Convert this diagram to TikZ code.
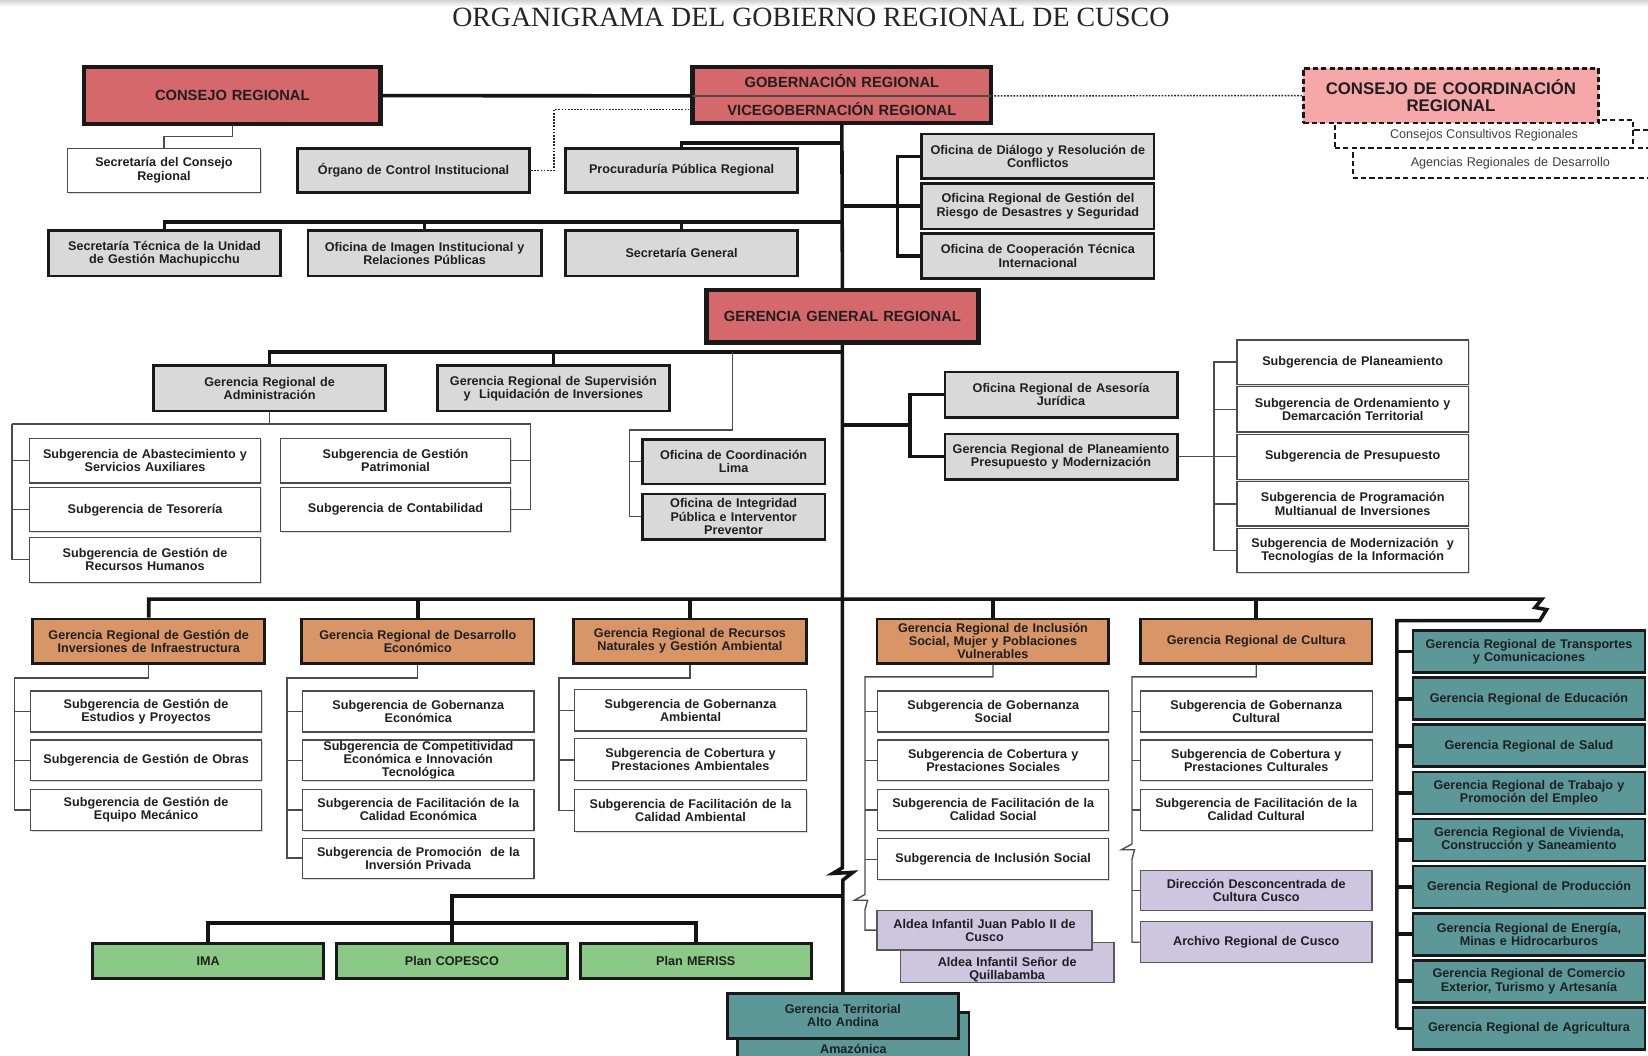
\documentclass[tikz,border=0pt]{standalone}
\usepackage{fontspec}
\usetikzlibrary{shadows}
\newfontfamily\boxfont{Liberation Sans}
\newfontfamily\serifT{Liberation Serif}
\definecolor{redfill}{RGB}{212,104,106}
\definecolor{pinkfill}{RGB}{246,168,168}
\definecolor{grayfill}{RGB}{217,217,217}
\definecolor{orangefill}{RGB}{216,150,104}
\definecolor{tealfill}{RGB}{92,152,152}
\definecolor{greenfill}{RGB}{138,201,134}
\definecolor{purplefill}{RGB}{206,197,224}
\newcommand\obox[7]{%
  \pgfmathsetmacro\obcx{(#3+#5)/2}%
  \pgfmathsetmacro\obcy{(#4+#6)/2}%
  \pgfmathsetmacro\obw{#5-#3}%
  \pgfmathsetmacro\obh{#6-#4}%
  \pgfmathsetmacro\obtw{#5-#3-4}%
  \node[#1, minimum width=\obw pt, minimum height=\obh pt, text width=\obtw pt] (#2) at (\obcx,\obcy) {#7};}
\tikzset{
  bxbase/.style={rectangle, inner sep=0pt, align=center, font=\boxfont\bfseries\fontsize{12}{12.5}\selectfont, text=black!88},
  redbox/.style={bxbase, fill=redfill, draw=black!90, line width=4.2pt, font=\boxfont\bfseries\fontsize{14}{15}\selectfont},
  redtext/.style={bxbase, font=\boxfont\bfseries\fontsize{14}{15}\selectfont},
  graybox/.style={bxbase, fill=grayfill, draw=black!90, line width=2.6pt},
  whitebox/.style={bxbase, fill=white, draw=black!70, line width=1.1pt, drop shadow={shadow xshift=1.3pt, shadow yshift=-1.3pt, fill=black!28}},
  orangebox/.style={bxbase, fill=orangefill, draw=black!90, line width=2.6pt},
  tealbox/.style={bxbase, fill=tealfill, draw=black!90, line width=2.6pt},
  greenbox/.style={bxbase, fill=greenfill, draw=black!90, line width=2.6pt},
  purplebox/.style={bxbase, fill=purplefill, draw=black!65, line width=1.3pt},
  pinkbox/.style={bxbase, fill=pinkfill, draw=black!90, line width=2.6pt, dash pattern=on 5pt off 3pt, font=\boxfont\bfseries\fontsize{16}{16}\selectfont},
  dashbox/.style={bxbase, fill=white, draw=black!90, line width=2pt, dash pattern=on 5pt off 3pt, font=\boxfont\fontsize{12}{13}\selectfont, text=black!75},
  thk/.style={line width=3.4pt, draw=black!92},
  thn/.style={line width=1.3pt, draw=black!70},
  dotl/.style={line width=1.4pt, dash pattern=on 1.6pt off 1.4pt, draw=black!85},
  dshl/.style={line width=2pt, dash pattern=on 5pt off 3pt, draw=black!90}
}
\begin{document}
\begin{tikzpicture}[x=1pt,y=-1pt]
\useasboundingbox (0,0) rectangle (1568,1004);
\clip (0,0) rectangle (1568,1004);
\fill[white] (0,0) rectangle (1568,1004);
\shade[top color=black!18, bottom color=white] (0,0) rectangle (1568,6);

\node[font=\serifT\fontsize{26.5}{28}\selectfont, text=black!85] (title) at (771.5,17) {ORGANIGRAMA DEL GOBIERNO REGIONAL DE CUSCO};

% top level
\obox{redbox}{cr}{80}{64}{362}{118}{CONSEJO REGIONAL}
\obox{redbox}{gobframe}{659}{64}{943}{117}{}
\obox{redtext}{gob}{659}{64}{943}{91}{GOBERNACIÓN REGIONAL}
\obox{redtext}{vice}{659}{91}{943}{117}{VICEGOBERNACIÓN REGIONAL}
\draw[line width=1.5pt, black!70] (gob.south west) -- (gob.south east);

\obox{dashbox}{agen}{1287}{141}{1587}{169}{Agencias Regionales de Desarrollo}
\obox{dashbox}{ccons}{1270}{114}{1554}{141}{}
\node[font=\boxfont\fontsize{12}{13}\selectfont, text=black!75] (cconstxt) at (1412,129) {Consejos Consultivos Regionales};
\obox{pinkbox}{ccr}{1240}{65}{1521}{117}{CONSEJO DE COORDINACIÓN\\REGIONAL}
\coordinate (edgeR) at (1575,124);
\draw[dshl] ([yshift=3.5pt]ccons.east) -- (edgeR);

\obox{whitebox}{scr}{64}{141}{248}{183}{Secretaría del Consejo\\Regional}
\obox{graybox}{oci}{283}{141}{504}{183}{Órgano de Control Institucional}
\obox{graybox}{ppr}{538}{141}{759}{183}{Procuraduría Pública Regional}
\obox{graybox}{odr}{877}{127.5}{1098}{170}{Oficina de Diálogo y Resolución de\\Conflictos}
\obox{graybox}{orgr}{877}{174.5}{1098}{218}{Oficina Regional de Gestión del\\Riesgo de Desastres y Seguridad}
\obox{graybox}{octi}{877}{222}{1098}{265}{Oficina de Cooperación Técnica\\Internacional}
\obox{graybox}{stum}{46}{219.5}{267}{262.6}{Secretaría Técnica de la Unidad\\de Gestión Machupicchu}
\obox{graybox}{oiirp}{293}{219.5}{515}{262.6}{Oficina de Imagen Institucional y\\Relaciones Públicas}
\obox{graybox}{sg}{538}{219.5}{759}{262.6}{Secretaría General}

\obox{redbox}{ggr}{672}{276}{931}{326}{GERENCIA GENERAL REGIONAL}

% gerencia general level
\obox{graybox}{gra}{146}{348}{367}{391}{Gerencia Regional de\\Administración}
\obox{graybox}{grsli}{416}{348}{637}{391}{Gerencia Regional de Supervisión\\y\ \ Liquidación de Inversiones}
\obox{whitebox}{sab}{28}{417}{248}{459.5}{Subgerencia de Abastecimiento y\\Servicios Auxiliares}
\obox{whitebox}{ste}{28}{464}{248}{506}{Subgerencia de Tesorería}
\obox{whitebox}{srh}{28}{511}{248}{554}{Subgerencia de Gestión de\\Recursos Humanos}
\obox{whitebox}{sgp}{266.7}{417}{486}{459.5}{Subgerencia de Gestión\\Patrimonial}
\obox{whitebox}{sco}{266.7}{464}{486}{506}{Subgerencia de Contabilidad}
\obox{graybox}{ocl}{611}{418}{785}{460.6}{Oficina de Coordinación\\Lima}
\obox{graybox}{oipi}{611}{470}{785}{513}{Oficina de Integridad\\Pública e Interventor\\Preventor}

\obox{graybox}{oraj}{899}{354}{1120}{397}{Oficina Regional de Asesoría\\Jurídica}
\obox{graybox}{grppm}{899}{413}{1120}{456}{Gerencia Regional de Planeamiento\\Presupuesto y Modernización}
\obox{whitebox}{spl}{1177}{323.5}{1397}{365.5}{Subgerencia de Planeamiento}
\obox{whitebox}{sod}{1177}{368}{1397}{411}{Subgerencia de Ordenamiento y\\Demarcación Territorial}
\obox{whitebox}{spr}{1177}{413}{1397}{456}{Subgerencia de Presupuesto}
\obox{whitebox}{spm}{1177}{458.5}{1397}{500.5}{Subgerencia de Programación\\Multianual de Inversiones}
\obox{whitebox}{smt}{1177}{503}{1397}{545}{Subgerencia de Modernización\ \ y\\Tecnologías de la Información}

% orange gerencias
\obox{orangebox}{ogi}{31}{589}{252}{631}{Gerencia Regional de Gestión de\\Inversiones de Infraestructura}
\obox{orangebox}{ode}{287}{589}{508}{631}{Gerencia Regional de Desarrollo\\Económico}
\obox{orangebox}{orn}{546}{589}{767}{631}{Gerencia Regional de Recursos\\Naturales y Gestión Ambiental}
\obox{orangebox}{ois}{834.5}{589}{1055}{631}{Gerencia Regional de Inclusión\\Social, Mujer y Poblaciones\\Vulnerables}
\obox{orangebox}{ocu}{1085}{589}{1305.5}{631}{Gerencia Regional de Cultura}

\obox{whitebox}{sgep}{29}{657.5}{249}{696.5}{Subgerencia de Gestión de\\Estudios y Proyectos}
\obox{whitebox}{sgo}{29}{704}{249}{743}{Subgerencia de Gestión de Obras}
\obox{whitebox}{sgem}{29}{751}{249}{790}{Subgerencia de Gestión de\\Equipo Mecánico}

\obox{whitebox}{sgec}{288}{657.5}{508}{696.5}{Subgerencia de Gobernanza\\Económica}
\obox{whitebox}{scei}{288}{704}{508}{743}{Subgerencia de Competitividad\\Económica e Innovación\\Tecnológica}
\obox{whitebox}{sfce}{288}{751}{508}{790}{Subgerencia de Facilitación de la\\Calidad Económica}
\obox{whitebox}{spip}{288}{797.5}{508}{835.5}{Subgerencia de Promoción\ \ de la\\Inversión Privada}

\obox{whitebox}{sga}{547}{656}{767}{695.5}{Subgerencia de Gobernanza\\Ambiental}
\obox{whitebox}{scpa}{547}{703}{767}{743}{Subgerencia de Cobertura y\\Prestaciones Ambientales}
\obox{whitebox}{sfca}{547}{751}{767}{791}{Subgerencia de Facilitación de la\\Calidad Ambiental}

\obox{whitebox}{sgs}{835}{657.5}{1055}{696.5}{Subgerencia de Gobernanza\\Social}
\obox{whitebox}{scps}{835}{704}{1055}{743}{Subgerencia de Cobertura y\\Prestaciones Sociales}
\obox{whitebox}{sfcs}{835}{751}{1055}{790}{Subgerencia de Facilitación de la\\Calidad Social}
\obox{whitebox}{sis}{835}{798}{1055}{837}{Subgerencia de Inclusión Social}
\obox{purplebox}{aisq}{856.5}{897}{1060}{935}{\\[9pt]Aldea Infantil Señor de\\Quillabamba}
\obox{purplebox}{aijp}{834.5}{866}{1039}{904}{Aldea Infantil Juan Pablo II de\\Cusco}

\obox{whitebox}{sgc}{1085}{657.5}{1305.5}{696.5}{Subgerencia de Gobernanza\\Cultural}
\obox{whitebox}{scpc}{1085}{704}{1305.5}{743}{Subgerencia de Cobertura y\\Prestaciones Culturales}
\obox{whitebox}{sfcc}{1085}{751}{1305.5}{790}{Subgerencia de Facilitación de la\\Calidad Cultural}
\obox{purplebox}{ddcc}{1085}{828}{1305.5}{866}{Dirección Desconcentrada de\\Cultura Cusco}
\obox{purplebox}{arc}{1085}{877}{1305.5}{916}{Archivo Regional de Cusco}

% teal column
\obox{tealbox}{t1}{1344.5}{600}{1565}{640}{Gerencia Regional de Transportes\\y Comunicaciones}
\obox{tealbox}{t2}{1344.5}{644.8}{1565}{684.8}{Gerencia Regional de Educación}
\obox{tealbox}{t3}{1344.5}{689.6}{1565}{729.6}{Gerencia Regional de Salud}
\obox{tealbox}{t4}{1344.5}{734.4}{1565}{774.4}{Gerencia Regional de Trabajo y\\Promoción del Empleo}
\obox{tealbox}{t5}{1344.5}{779.2}{1565}{819.2}{Gerencia Regional de Vivienda,\\Construcción y Saneamiento}
\obox{tealbox}{t6}{1344.5}{824}{1565}{864}{Gerencia Regional de Producción}
\obox{tealbox}{t7}{1344.5}{868.8}{1565}{908.8}{Gerencia Regional de Energía,\\Minas e Hidrocarburos}
\obox{tealbox}{t8}{1344.5}{913.6}{1565}{953.6}{Gerencia Regional de Comercio\\Exterior, Turismo y Artesanía}
\obox{tealbox}{t9}{1344.5}{958.4}{1565}{998.4}{Gerencia Regional de Agricultura}

% green
\obox{greenbox}{ima}{88}{898}{308}{931}{IMA}
\obox{greenbox}{cop}{320}{898}{540}{931}{Plan COPESCO}
\obox{greenbox}{mer}{552}{898}{772}{931}{Plan MERISS}

% territorial
\obox{tealbox}{gtam}{702}{963}{922}{1033}{Amazónica}
\obox{tealbox}{gt}{692}{945}{912}{988}{Gerencia Territorial\\Alto Andina}

% ---------------- connectors
\draw[thk] (cr.east) -- (gob.south west);
\draw[dotl] (gob.south east) -- (ccr.west);
\draw[thn] (cr.south) -- ++(0,10) -| (scr.north);
\draw[dotl] (oci.east) -- ++(22,0) |- (vice.west);

\draw[thk] (gobframe.south) -- (ggr.north);
\coordinate (zs1) at (801.5,825.6);
\draw[thk] (ggr.south) -- (zs1) -- ++(-9,5.4) -- ++(19,-1) -- ++(-9.5,7.3) -- (gt.north);

\coordinate (j1) at (801,136);
\draw[thk] (ppr.north) |- (j1);
\coordinate (j2) at (801,196.25);
\coordinate (b2) at (854,196.25);
\draw[thk] (j2) -- (orgr.west);
\draw[thk] (odr.west) -| (b2) |- (octi.west);
\coordinate (j3) at (801,211);
\draw[thk] (stum.north) |- (j3);
\draw[thk] (oiirp.north) -- ++(0,-8.5);
\draw[thk] (sg.north) -- ++(0,-8.5);

\coordinate (j4) at (801,335);
\draw[thk] (gra.north) |- (j4);
\draw[thk] (grsli.north) -- ++(0,-13);
\coordinate (j5) at (697,335);
\coordinate (j6) at (599,409);
\draw[thn] (j5) |- (j6) |- (oipi.west);
\draw[thn] (j6 |- ocl.west) -- (ocl.west);

\coordinate (a1) at (11.4,403.5);
\coordinate (a2) at (505,403.5);
\draw[thn] (gra.south) -- (gra.south |- a1);
\draw[thn] (a1) -- (a2) |- (sco.east);
\draw[thn] (a1) |- (srh.west);
\draw[thn] (a1 |- sab.west) -- (sab.west);
\draw[thn] (a1 |- ste.west) -- (ste.west);
\draw[thn] (a2 |- sgp.east) -- (sgp.east);

\coordinate (j7) at (801,404.5);
\coordinate (b7) at (866,404.5);
\draw[thk] (j7) -- (b7);
\draw[thk] (oraj.west) -| (b7) |- (grppm.west);
\coordinate (b8) at (1155,434.5);
\draw[thn] (grppm.east) -- (spr.west);
\draw[thn] (spl.west) -| (b8) |- (smt.west);
\draw[thn] (b8 |- sod.west) -- (sod.west);
\draw[thn] (b8 |- spm.west) -- (spm.west);

% bus
\coordinate (zz1) at (1467,570);
\coordinate (tb) at (1329,590.5);
\draw[thk] (ogi.north) |- (zz1) -- ++(-6.5,8) -- ++(11,2) -- ++(-6.5,10.5) -- (tb) -- (tb |- t9.west);
\draw[thk] (ode.north) -- ++(0,-19);
\draw[thk] (orn.north) -- ++(0,-19);
\draw[thk] (ois.north) -- ++(0,-19);
\draw[thk] (ocu.north) -- ++(0,-19);
\foreach \t in {t1,t2,t3,t4,t5,t6,t7,t8,t9}{\draw[thk] (tb |- \t.west) -- (\t.west);}

\coordinate (giv) at (14,645);
\draw[thn] (ogi.south) |- (giv) |- (sgem.west);
\foreach \n in {sgep,sgo}{\draw[thn] (giv |- \n.west) -- (\n.west);}
\coordinate (dev) at (273,645);
\draw[thn] (ode.south) |- (dev) |- (spip.west);
\foreach \n in {sgec,scei,sfce}{\draw[thn] (dev |- \n.west) -- (\n.west);}
\coordinate (rnv) at (532,645);
\draw[thn] (orn.south) |- (rnv) |- (sfca.west);
\foreach \n in {sga,scpa}{\draw[thn] (rnv |- \n.west) -- (\n.west);}
\coordinate (isv) at (823,644);
\coordinate (isz) at (823,851);
\draw[thn] (ois.south) |- (isv) -- (isz) -- ++(-10,5.5) -- ++(12.5,0) -- ++(-2.5,9) |- (aijp.west);
\foreach \n in {sgs,scps,sfcs,sis}{\draw[thn] (isv |- \n.west) -- (\n.west);}
\coordinate (cuv) at (1077,644);
\coordinate (cuz) at (1077,803);
\draw[thn] (ocu.south) |- (cuv) -- (cuz) -- ++(-10,5.5) -- ++(12.5,0) -- ++(-2.5,9) |- (arc.west);
\foreach \n in {sgc,scpc,sfcc,ddcc}{\draw[thn] (cuv |- \n.west) -- (\n.west);}

\coordinate (j8) at (801,852.5);
\coordinate (j9) at (430,878);
\draw[thk] (j8) -| (j9);
\draw[thk] (ima.north) |- (j9) -| (mer.north);
\draw[thk] (cop.north) -- (j9);
\end{tikzpicture}
\end{document}
